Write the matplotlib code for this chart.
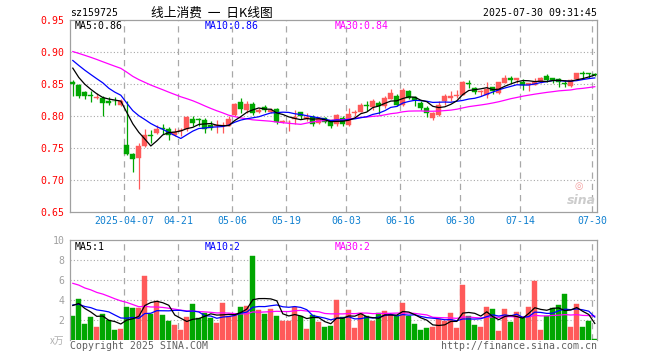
import numpy as np
import matplotlib
matplotlib.use("Agg")
import matplotlib.pyplot as plt

# daily candles, index 0..87 (last one is 2025-07-30)
opens = [0.854, 0.849, 0.838, 0.833, 0.828, 0.828, 0.824, 0.824, 0.818, 0.755,
         0.740, 0.734, 0.753, 0.771, 0.773, 0.781, 0.779, 0.770, 0.776, 0.779,
         0.796, 0.795, 0.794, 0.786, 0.784, 0.784, 0.785, 0.802, 0.822, 0.810,
         0.819, 0.806, 0.814, 0.806, 0.811, 0.790, 0.790, 0.795, 0.806, 0.795,
         0.798, 0.789, 0.797, 0.793, 0.787, 0.797, 0.786, 0.805, 0.807, 0.818,
         0.814, 0.820, 0.815, 0.827, 0.832, 0.818, 0.839, 0.830, 0.820, 0.813,
         0.797, 0.802, 0.824, 0.828, 0.831, 0.833, 0.852, 0.844, 0.838, 0.833,
         0.845, 0.836, 0.852, 0.859, 0.857, 0.854, 0.849, 0.849, 0.853, 0.863,
         0.859, 0.858, 0.852, 0.847, 0.858, 0.867, 0.867, 0.866]
highs = [0.857, 0.850, 0.839, 0.839, 0.836, 0.831, 0.830, 0.829, 0.826, 0.823,
         0.742, 0.758, 0.780, 0.778, 0.786, 0.788, 0.783, 0.781, 0.781, 0.800,
         0.800, 0.797, 0.797, 0.792, 0.793, 0.790, 0.800, 0.820, 0.828, 0.824,
         0.822, 0.813, 0.818, 0.813, 0.812, 0.794, 0.794, 0.810, 0.807, 0.805,
         0.802, 0.799, 0.798, 0.794, 0.803, 0.800, 0.813, 0.810, 0.820, 0.823,
         0.827, 0.823, 0.831, 0.842, 0.834, 0.844, 0.840, 0.831, 0.824, 0.815,
         0.806, 0.823, 0.834, 0.839, 0.840, 0.855, 0.857, 0.846, 0.841, 0.854,
         0.846, 0.854, 0.865, 0.863, 0.860, 0.858, 0.851, 0.859, 0.861, 0.866,
         0.860, 0.859, 0.856, 0.858, 0.867, 0.871, 0.868, 0.867]
lows = [0.831, 0.828, 0.827, 0.822, 0.827, 0.800, 0.817, 0.818, 0.816, 0.739,
        0.713, 0.686, 0.751, 0.757, 0.772, 0.772, 0.763, 0.768, 0.768, 0.776,
        0.785, 0.785, 0.773, 0.778, 0.774, 0.774, 0.784, 0.800, 0.805, 0.805,
        0.802, 0.804, 0.807, 0.804, 0.788, 0.789, 0.777, 0.788, 0.795, 0.792,
        0.784, 0.788, 0.789, 0.781, 0.785, 0.784, 0.784, 0.800, 0.806, 0.808,
        0.810, 0.803, 0.813, 0.826, 0.815, 0.815, 0.826, 0.815, 0.810, 0.798,
        0.793, 0.800, 0.818, 0.823, 0.828, 0.833, 0.844, 0.835, 0.831, 0.828,
        0.835, 0.835, 0.851, 0.851, 0.851, 0.840, 0.839, 0.848, 0.852, 0.854,
        0.852, 0.845, 0.846, 0.845, 0.857, 0.859, 0.859, 0.863]
closes = [0.850, 0.832, 0.831, 0.832, 0.829, 0.821, 0.820, 0.823, 0.824, 0.740,
          0.732, 0.753, 0.771, 0.769, 0.780, 0.779, 0.771, 0.775, 0.778, 0.798,
          0.789, 0.794, 0.779, 0.781, 0.785, 0.785, 0.795, 0.819, 0.811, 0.819,
          0.804, 0.810, 0.810, 0.810, 0.790, 0.792, 0.791, 0.798, 0.800, 0.799,
          0.787, 0.795, 0.790, 0.784, 0.802, 0.788, 0.803, 0.807, 0.818, 0.815,
          0.823, 0.815, 0.828, 0.836, 0.817, 0.841, 0.828, 0.825, 0.813, 0.805,
          0.805, 0.818, 0.831, 0.832, 0.833, 0.854, 0.850, 0.837, 0.839, 0.842,
          0.839, 0.853, 0.860, 0.857, 0.859, 0.849, 0.851, 0.854, 0.860, 0.856,
          0.857, 0.853, 0.850, 0.857, 0.867, 0.866, 0.866, 0.865]
volumes = [2.43, 4.13, 1.60, 2.33, 1.33, 2.60, 1.97, 1.00, 1.10, 3.30,
           3.23, 3.17, 6.43, 2.60, 3.93, 2.50, 1.90, 1.53, 1.00, 2.33,
           3.60, 2.23, 2.70, 2.23, 1.70, 3.73, 2.43, 2.57, 3.30, 3.40,
           8.43, 3.00, 2.60, 3.13, 2.43, 1.93, 1.93, 3.30, 2.43, 1.13,
           2.50, 1.80, 1.33, 1.37, 4.00, 2.33, 3.00, 1.20, 2.67, 2.40,
           1.90, 2.70, 2.90, 2.57, 2.37, 3.70, 2.43, 1.60, 1.00, 1.20,
           1.33, 2.13, 1.93, 2.70, 1.20, 5.50, 2.43, 1.50, 1.33, 3.33,
           3.10, 0.90, 3.10, 1.83, 2.80, 2.27, 3.30, 5.93, 1.00, 2.37,
           3.23, 3.50, 4.60, 1.33, 3.57, 1.33, 1.93, 0.10]

# closes / volumes of the 29 sessions before the window (feed the moving averages)
pre_closes = [0.918, 0.922, 0.926, 0.930, 0.928, 0.925, 0.927, 0.924, 0.922, 0.928,
              0.905, 0.900, 0.896, 0.892, 0.888, 0.885, 0.884, 0.886, 0.888, 0.886,
              0.910, 0.905, 0.900, 0.895, 0.885, 0.905, 0.884, 0.872, 0.864]
pre_volumes = [9.5, 10.2, 8.0, 9.0, 7.6, 8.8, 8.2, 7.4, 8.0, 9.6, 9.66,
               5.2, 4.6, 4.0, 3.8, 4.4, 4.2, 4.0, 4.5, 4.4,
               3.4, 3.8, 3.5, 3.6, 3.45, 3.1, 4.1, 4.1, 3.52]

tick_idx = [9, 18, 27, 36, 46, 55, 65, 75, 87]
tick_labels = ["2025-04-07", "04-21", "05-06", "05-19", "06-03",
               "06-16", "06-30", "07-14", "07-30"]

RED = "#ff5a5a"
GREEN = "#00a600"
GRID = "#a8a8a8"
MONO = "DejaVu Sans Mono"
CJK = ["Noto Sans CJK SC", "DejaVu Sans"]
W, H = 660, 360


def px(x, y):
    return x / W, 1 - y / H


def moving_avg(pre, vals, n):
    full = np.array(pre + vals)
    k = len(pre)
    return np.array([full[k + i - n + 1:k + i + 1].mean() for i in range(len(vals))])


o = np.array(opens); h = np.array(highs); l = np.array(lows); c = np.array(closes)
v = np.array(volumes)
x = np.arange(len(c))
up = c >= o
cols = np.where(up, RED, GREEN)

fig = plt.figure(figsize=(6.6, 3.6), dpi=100)
ax = fig.add_axes([70 / W, 1 - 211.7 / H, 527 / W, 191.4 / H])
axv = fig.add_axes([70 / W, 1 - 340 / H, 527 / W, 100 / H])

xmin, xmax = -0.467, 87.37
grid_x = [i - 0.42 for i in tick_idx]

for a in (ax, axv):
    a.set_xlim(xmin, xmax)
    for s in a.spines.values():
        s.set_color("#a0a0a0")
        s.set_linewidth(0.9)
    for gx in grid_x:
        a.axvline(gx, color=GRID, lw=0.9, ls=(0, (5, 4)), zorder=0)
    a.tick_params(length=0)

# ---- price panel
ax.set_ylim(0.65, 0.95)
for gy in [0.70, 0.75, 0.80, 0.85, 0.90]:
    ax.axhline(gy, color=GRID, lw=0.8, ls=(0, (1, 2)), zorder=0)
ax.vlines(x, l, h, colors=cols, lw=0.9, zorder=2)
body = np.maximum(np.abs(c - o), 0.0012)
ax.bar(x, body, bottom=np.minimum(o, c), width=0.82, color=cols, edgecolor=cols,
       linewidth=0.3, zorder=3)
ax.plot(x, moving_avg(pre_closes, closes, 30), color="#ff00ff", lw=0.9, zorder=4)
ax.plot(x, moving_avg(pre_closes, closes, 10), color="#0000ff", lw=0.9, zorder=4)
ax.plot(x, moving_avg(pre_closes, closes, 5), color="black", lw=0.9, zorder=4)

ax.set_yticks([0.65, 0.70, 0.75, 0.80, 0.85, 0.90, 0.95])
ax.set_yticklabels(["%.2f" % t for t in ax.get_yticks()], color="#ff0000",
                   family=MONO, fontsize=7.1)
ax.set_xticks(grid_x)
ax.set_xticklabels(tick_labels, color="#1080d0", family=MONO, fontsize=7.1)
ax.tick_params(axis="y", pad=4)
ax.tick_params(axis="x", pad=3)

# ---- volume panel
axv.set_ylim(0, 10)
for gy in [2, 4, 6, 8]:
    axv.axhline(gy, color=GRID, lw=0.8, ls=(0, (1, 2)), zorder=0)
axv.bar(x, v, width=0.82, color=cols, edgecolor=cols, linewidth=0.3, zorder=2)
axv.plot(x, moving_avg(pre_volumes, volumes, 30), color="#ff00ff", lw=0.9, zorder=4)
axv.plot(x, moving_avg(pre_volumes, volumes, 10), color="#0000ff", lw=0.9, zorder=4)
axv.plot(x, moving_avg(pre_volumes, volumes, 5), color="black", lw=0.9, zorder=4)
axv.set_yticks([2, 4, 6, 8, 10])
axv.set_yticklabels(["2", "4", "6", "8", "10"], color="#a0a0a0", family=MONO,
                    fontsize=7.1)
axv.tick_params(axis="y", pad=4)
axv.set_xticks([])
axv.spines["bottom"].set_visible(False)

# ---- texts
fig.text(*px(70, 13), "sz159725", family=MONO, fontsize=7.1, va="center")
fig.text(*px(212, 13), "线上消费  一  日K线图", family=CJK,
         fontsize=9.2, ha="center", va="center")
fig.text(*px(597, 13), "2025-07-30 09:31:45", family=MONO, fontsize=7.1,
         ha="right", va="center")

fig.text(*px(75, 26), "MA5:0.86", family=MONO, fontsize=7.1, va="center", color="black")
fig.text(*px(205, 26), "MA10:0.86", family=MONO, fontsize=7.1, va="center", color="#0000ff")
fig.text(*px(335, 26), "MA30:0.84", family=MONO, fontsize=7.1, va="center", color="#ff00ff")
fig.text(*px(75, 246.5), "MA5:1", family=MONO, fontsize=7.1, va="center", color="black")
fig.text(*px(205, 246.5), "MA10:2", family=MONO, fontsize=7.1, va="center", color="#0000ff")
fig.text(*px(335, 246.5), "MA30:2", family=MONO, fontsize=7.1, va="center", color="#ff00ff")

fig.text(*px(64, 341), "x万", family=CJK, fontsize=7,
         color="#b0b0b0", ha="right", va="center", style="italic")
fig.text(*px(70, 346), "Copyright 2025 SINA.COM", family=MONO, fontsize=7.1,
         color="#606060", va="center")
fig.text(*px(597, 346), "http://finance.sina.com.cn", family=MONO, fontsize=7.1,
         color="#606060", ha="right", va="center")

# sina watermark
fig.text(*px(579, 186), "◎", fontsize=7, color="#f4a0a0", ha="center", va="center")
fig.text(*px(581, 200), "sina", fontsize=9, color="#cccccc", ha="center",
         va="center", style="italic", weight="bold")

fig.savefig("out.png", dpi=100)
